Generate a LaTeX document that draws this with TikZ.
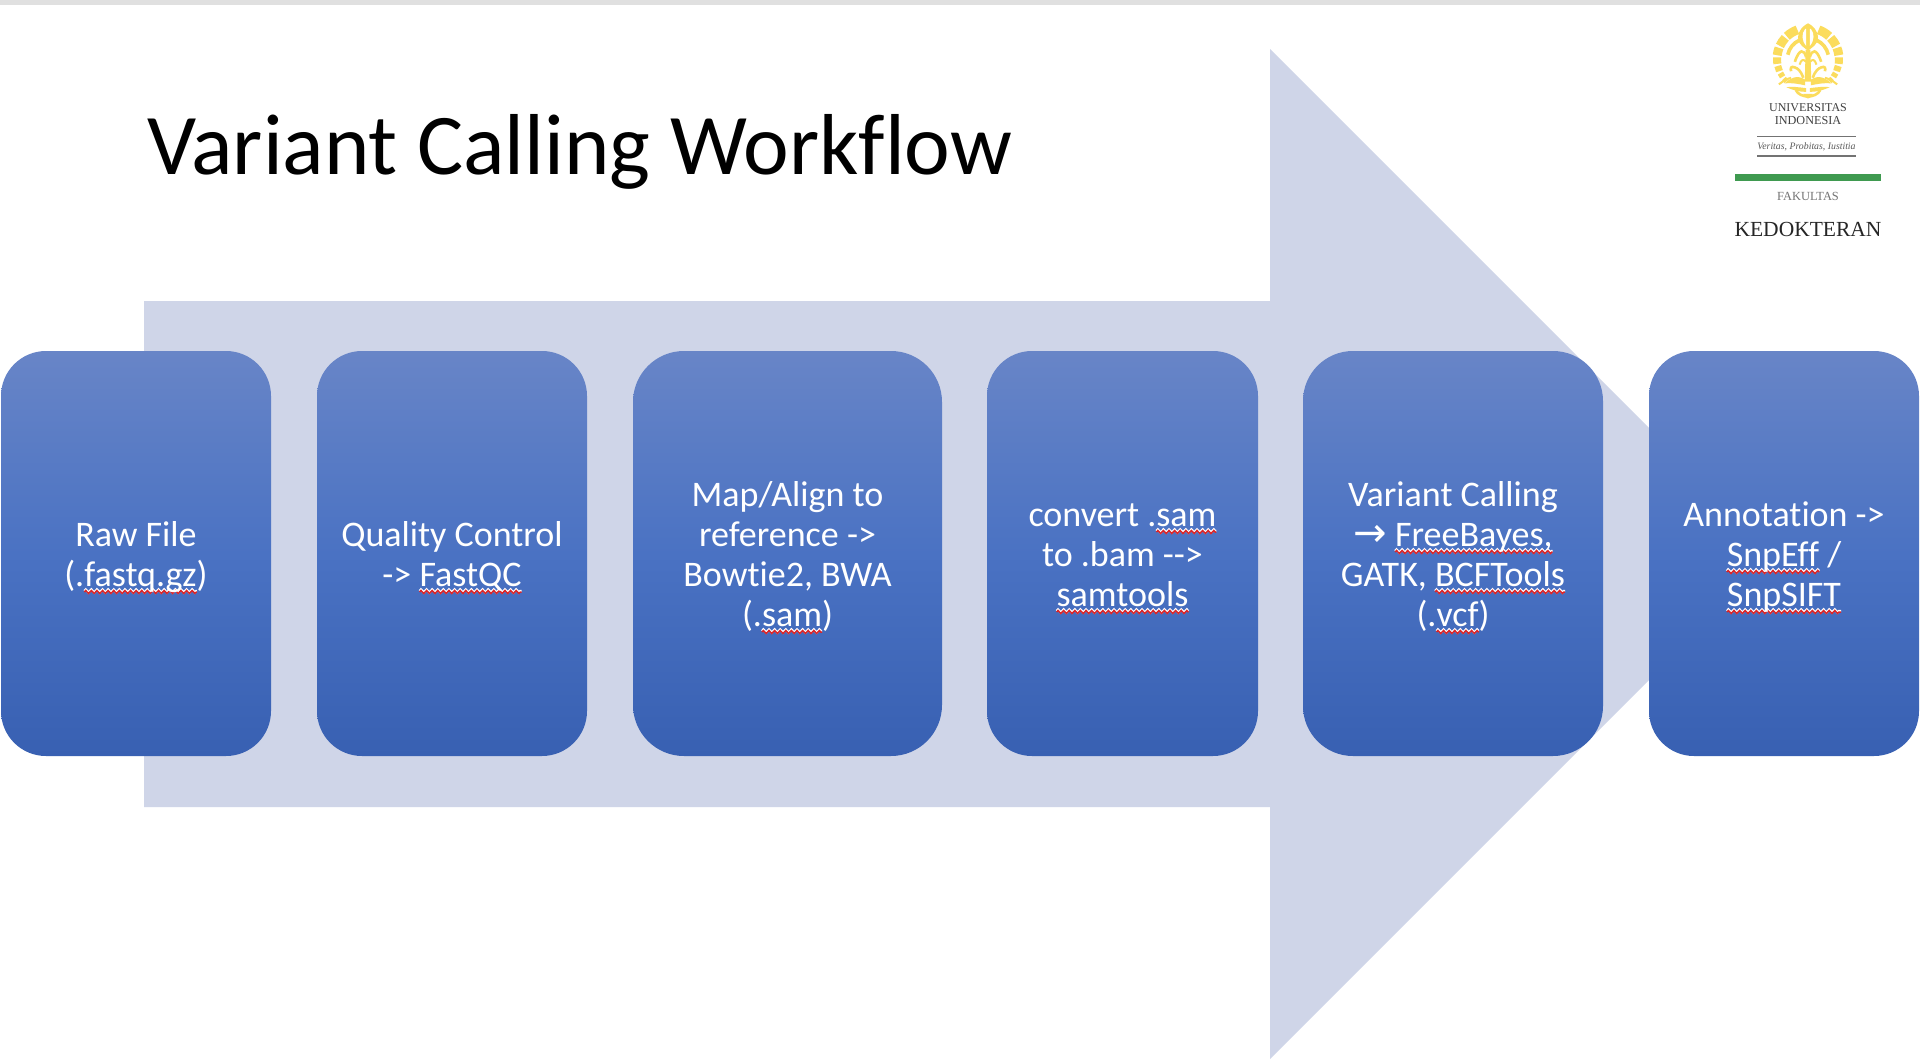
\documentclass[tikz,border=0pt]{standalone}
\usepackage{fontspec}
\setmainfont[Ligatures=NoCommon]{Carlito}
\newfontfamily\logofont{Liberation Serif}
\newfontfamily\arrfont{DejaVu Sans}
\usetikzlibrary{decorations.pathmorphing}
\definecolor{arrowfill}{HTML}{CFD5E8}
\definecolor{gtop}{HTML}{6885C7}
\definecolor{gmid}{HTML}{4A72C3}
\definecolor{gbot}{HTML}{3860B2}
\definecolor{emblem}{HTML}{FBDC5C}
\definecolor{uigreen}{HTML}{3F9A50}
\definecolor{squigred}{HTML}{D9262A}
\pgfdeclareverticalshading{boxgrad}{100bp}{color(0bp)=(gbot); color(25bp)=(gbot); color(50bp)=(gmid); color(75bp)=(gtop); color(100bp)=(gtop)}
\newlength\sqw
\newcommand\sq[1]{\setbox0\hbox{#1}\sqw=\wd0\relax
  \begin{tikzpicture}[overlay,baseline=0pt,sharp corners]
    \draw[white,line width=2.4pt,decorate,decoration={zigzag,amplitude=1.5pt,segment length=5.6pt}] (0pt,-5pt) -- (\sqw,-5pt);
    \draw[squigred,line width=1.5pt,decorate,decoration={zigzag,amplitude=1.5pt,segment length=5.6pt}] (0pt,-6pt) -- (\sqw,-6pt);
  \end{tikzpicture}\box0 }
\newcommand\tstr{\rule{0pt}{33pt}}
\newcommand\bstr{\rule[-8pt]{0pt}{8pt}}
\tikzset{
  stepbox/.style={shade,shading=boxgrad,inner sep=0pt,text=white,align=center,
    minimum height=405pt,font=\fontsize{36}{40}\selectfont},
  logotext/.style={inner sep=0pt,anchor=base,font=\logofont},
  petal/.style={emblem,line width=#1,line cap=butt},
}
\begin{document}
\begin{tikzpicture}[x=1pt,y=-1pt]
\useasboundingbox (0,0) rectangle (1920,1060);
\fill[white] (0,0) rectangle (1920,1060);
\fill[black!12] (0,0) rectangle (1920,5);
% big arrow
\fill[arrowfill] (144,301) -- (1270,301) -- (1270,49) -- (1775,554) -- (1270,1059) -- (1270,807) -- (144,807) -- cycle;
% title
\node[inner sep=0pt,anchor=base west,font=\fontsize{86.5}{100}\selectfont] (title) at (147,174.2) {Variant Calling Workflow};
% steps
\node[stepbox,minimum width=270pt,rounded corners=45pt] (s1) at (136,553.5) {\tstr Raw File\\(.\sq{fastq.gz})\bstr};
\node[stepbox,minimum width=270pt,rounded corners=45pt] (s2) at (452,553.5) {\tstr Quality Control\\-{}> \sq{FastQC}\bstr};
\node[stepbox,minimum width=309pt,rounded corners=51pt] (s3) at (787.5,553.5) {\tstr Map/Align to\\reference -{}>\\Bowtie2, BWA\\(.\sq{sam})\bstr};
\node[stepbox,minimum width=271pt,rounded corners=45pt] (s4) at (1122.5,553.5) {\tstr convert .\sq{sam}\\to .bam -{}-{}>\\\sq{samtools}\bstr};
\node[stepbox,minimum width=300pt,rounded corners=50pt] (s5) at (1453,553.5) {\tstr Variant Calling\\{\arrfont\fontsize{40}{40}\selectfont →} \sq{FreeBayes,}\\GATK, \sq{BCFTools}\\(.\sq{vcf})\bstr};
\node[stepbox,minimum width=270pt,rounded corners=45pt] (s6) at (1784,553.5) {\tstr Annotation -{}>\\\sq{SnpEff} /\\\sq{SnpSIFT}\bstr};
% emblem
\begin{scope}[shift={(1808,59)},scale=0.94]
  \foreach \s in {1,-1}{
    \begin{scope}[xscale=\s]
      % outer scales
      \foreach \a/\b/\w in {-70/-47/9,-43/-25/9,-21/-7/9,-3/9/8,13/23/7,27/35/6,39/46/5}{
        \draw[petal=\w pt] ({33*cos(\a)},{33*sin(\a)}) arc[start angle=\a,end angle=\b,radius=33];
      }
      % inner arc
      \draw[petal=3.6pt] ({22*cos(-66)},{22*sin(-66)}) arc[start angle=-66,end angle=-12,radius=22];
      \draw[petal=2.6pt] (2,-2) .. controls (4,-10) and (9,-12) .. (14,3);
      \draw[petal=2pt] (2,3) .. controls (5,0) and (7,0) .. (9,6);
      % birds
      \draw[petal=2.6pt] (5,20) .. controls (8,12) and (11,10) .. (14,9) .. controls (18,7) and (19,10) .. (18,13);
      \draw[petal=2pt] (18,20) .. controls (22,21) and (26,23) .. (31,27);
      \fill[emblem] (3,22) .. controls (12,16) and (20,21) .. (25,26) .. controls (16,25) and (8,27) .. (3,28) -- cycle;
      \fill[emblem] (2,31) .. controls (10,30) and (18,29) .. (23,30) .. controls (17,33) and (9,35) .. (2,35) -- cycle;
    \end{scope}
  }
  % bud
  \fill[emblem] (0,-38) .. controls (4,-36) and (11,-31) .. (10.5,-22) .. controls (10,-15) and (4,-12) .. (0,-9) .. controls (-4,-12) and (-10,-15) .. (-10.5,-22) .. controls (-11,-31) and (-4,-36) .. (0,-38) -- cycle;
  \fill[white] (-3,-32) .. controls (-7,-27) and (-7,-20) .. (-2,-14) -- (-2,-32) -- cycle;
  \fill[white] (3,-32) .. controls (7,-27) and (7,-20) .. (2,-14) -- (2,-32) -- cycle;
  % stem
  \fill[emblem] (-2.5,-10) -- (2.5,-10) -- (3.5,24) -- (-3.5,24) -- cycle;
  % bottom arcs
  \draw[petal=2.6pt] (-13,33) .. controls (-9,42) and (9,42) .. (13,33);
  \fill[emblem] (-5,37) arc[start angle=180,end angle=0,radius=5] -- cycle;
\end{scope}
% logo texts
\node[logotext,font=\logofont\fontsize{12}{14}\selectfont,text=black!75] (uni) at (1808,111.7) {UNIVERSITAS};
\node[logotext,font=\logofont\fontsize{12.2}{14}\selectfont,text=black!75] (indo) at (1808,124) {INDONESIA};
\fill[black!55] (1757,135.8) rectangle (1856,137);
\fill[black!55] (1757,155.4) rectangle (1856,156.6);
\node[logotext,font=\logofont\itshape\fontsize{9.8}{12}\selectfont,text=black!65] (motto) at (1806.5,149.5) {Veritas, Probitas, Iustitia};
\fill[uigreen] (1735,174) rectangle (1881,181);
\node[logotext,font=\logofont\fontsize{12.4}{13}\selectfont,text=black!55] (fak) at (1808,200) {FAKULTAS};
\node[logotext,font=\logofont\fontsize{21.5}{23}\selectfont,text=black!85] (ked) at (1808,236) {KEDOKTERAN};
\end{tikzpicture}
\end{document}
